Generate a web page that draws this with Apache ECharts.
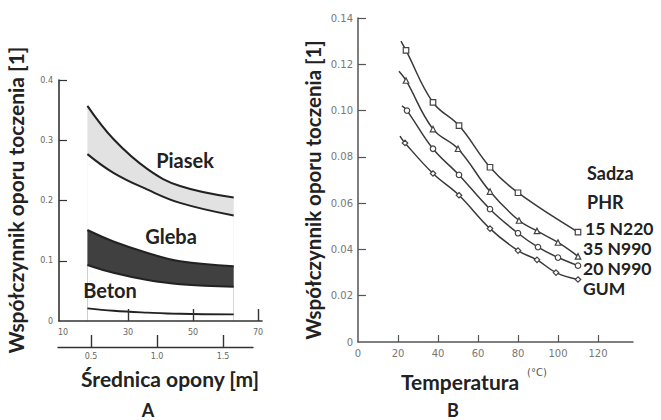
<!DOCTYPE html>
<html>
<head>
<meta charset="utf-8">
<script src="https://cdn.jsdelivr.net/npm/echarts@6/dist/echarts.min.js"></script>
<style>
html,body{margin:0;padding:0;background:#fff;}
#c{width:661px;height:420px;}
</style>
</head>
<body>
<div id="c"></div>
<script>
// ---------- Panel A data (x: tyre diameter in inches, top axis) ----------
const xA = [17.5, 25.5, 36, 46, 62.5];
const piasekUpper = [0.357, 0.302, 0.252, 0.224, 0.205];
const piasekLower = [0.277, 0.246, 0.218, 0.196, 0.175];
const glebaUpper  = [0.151, 0.132, 0.113, 0.099, 0.091];
const glebaLower  = [0.093, 0.080, 0.068, 0.061, 0.057];
const beton       = [0.021, 0.017, 0.014, 0.012, 0.011];
const xTicksInch  = [10, 30, 50, 70];
const xTickMarksInch = [30, 50, 70];
const xTicksM     = [0.5, 1.0, 1.5];
const yTicksA     = [0, 0.1, 0.2, 0.3, 0.4];

// ---------- Panel B data (temperature °C vs coefficient) ----------
const n220X = [21.5, 24, 37.5, 50.5, 66, 80, 110];
const n220Y = [0.130, 0.126, 0.1035, 0.0935, 0.0755, 0.0645, 0.0475];
const n990aX = [20.5, 24, 37.5, 50, 66, 80.5, 89.5, 100, 110];
const n990aY = [0.117, 0.113, 0.092, 0.0835, 0.065, 0.0525, 0.048, 0.043, 0.037];
const n990bX = [22, 24.5, 37.5, 50.5, 66, 80, 90, 100, 110];
const n990bY = [0.102, 0.100, 0.0835, 0.0722, 0.0574, 0.047, 0.041, 0.0365, 0.033];
const gumX = [21, 23.5, 37.5, 50.5, 66, 80, 89.5, 99, 110];
const gumY = [0.089, 0.086, 0.0728, 0.0634, 0.049, 0.0395, 0.0355, 0.030, 0.027];
const xTicksB = [0, 20, 40, 60, 80, 100, 120];
const yTicksB = [0, 0.02, 0.04, 0.06, 0.08, 0.10, 0.12, 0.14];
const yLabelsB = ['0', '0.02', '0.04', '0.06', '0.08', '0.10', '0.12', '0.14'];

const legendB = ['Sadza', 'PHR', '15 N220', '35 N990', '20 N990', 'GUM'];

const FONT = 'Lato, "Open Sans", sans-serif';
const ink = '#222';

function pairs(xs, ys) { return xs.map((x, i) => [x, ys[i]]); }
function withMarkers(xs, ys) {
  return xs.map((x, i) => i === 0 ? { value: [x, ys[i]], symbol: 'none' } : [x, ys[i]]);
}

const chart = echarts.init(document.getElementById('c'), null, { renderer: 'svg' });

const tickLabelA = { color: '#666', fontSize: 8, fontFamily: 'DejaVu Sans' };
const tickLabelB = { color: '#777', fontSize: 10, fontFamily: 'DejaVu Sans' };

function lineB(name, xs, ys, symbol) {
  return {
    name, type: 'line', xAxisIndex: 3, yAxisIndex: 3,
    data: withMarkers(xs, ys), smooth: 0.4,
    symbol, symbolSize: 5.5, showSymbol: true,
    lineStyle: { color: '#3a3a3a', width: 1.5 },
    itemStyle: { color: '#fff', borderColor: '#444', borderWidth: 1.2 },
    z: 3, silent: true
  };
}
function bandEdge(ys, fill, lw) {
  return { type: 'line', xAxisIndex: 0, yAxisIndex: 0, smooth: 0.4, symbol: 'none',
    data: pairs(xA, ys), lineStyle: { color: ink, width: lw },
    areaStyle: fill ? { color: fill, opacity: 1 } : undefined, silent: true };
}
function txt(text, x, y, size, align, lh) {
  const style = { text, font: 'bold ' + size + 'px ' + FONT, fill: ink, align: align || 'center', verticalAlign: 'middle' };
  if (lh) style.lineHeight = lh;
  return { type: 'text', x, y, z: 50, style };
}

const option = {
  backgroundColor: '#fff',
  animation: false,
  grid: [
    { left: 59, top: 80, width: 203, height: 241 },   // A main
    { left: 58, top: 346, width: 195, height: 1 },    // A metre axis
    { left: 0, top: 0, width: 1, height: 1 },         // unused
    { left: 358, top: 18, width: 275, height: 324 }   // B
  ],
  xAxis: [
    { gridIndex: 0, type: 'value', min: 8.77, max: 71.2, position: 'bottom', z: 10,
      axisLine: { show: true, onZero: false, lineStyle: { color: '#333', width: 1.6 } },
      axisTick: { show: true, inside: true, length: 12, customValues: xTickMarksInch, lineStyle: { color: '#333', width: 1.4 } },
      axisLabel: Object.assign({ customValues: xTicksInch, margin: 7 }, tickLabelA),
      splitLine: { show: false } },
    { gridIndex: 1, type: 'value', min: 0.25, max: 1.727, position: 'bottom',
      axisLine: { show: true, onZero: false, lineStyle: { color: '#333', width: 1.4 } },
      axisTick: { show: true, inside: true, length: 12, customValues: xTicksM, lineStyle: { color: '#333', width: 1.4 } },
      axisLabel: Object.assign({ customValues: xTicksM, margin: 5, formatter: v => v.toFixed(1) }, tickLabelA),
      splitLine: { show: false } },
    { gridIndex: 2, type: 'value', show: false },
    { gridIndex: 3, type: 'value', min: 0, max: 137.5, position: 'bottom',
      axisLine: { show: true, onZero: false, lineStyle: { color: '#555', width: 1.5 } },
      axisTick: { show: true, inside: true, length: 7, customValues: xTicksB.slice(1), lineStyle: { color: '#555', width: 1.2 } },
      axisLabel: Object.assign({ customValues: xTicksB, margin: 6 }, tickLabelB),
      splitLine: { show: false } }
  ],
  yAxis: [
    { gridIndex: 0, type: 'value', min: 0, max: 0.4, z: 10,
      axisLine: { show: true, onZero: false, lineStyle: { color: '#333', width: 1.6 } },
      axisTick: { show: true, inside: true, length: 8, customValues: yTicksA.slice(1), lineStyle: { color: '#333', width: 1.2 } },
      axisLabel: Object.assign({ customValues: yTicksA, margin: 6, formatter: v => v === 0 ? '0' : v.toFixed(1) }, tickLabelA),
      splitLine: { show: false } },
    { gridIndex: 1, type: 'value', show: false, min: 0, max: 1 },
    { gridIndex: 2, type: 'value', show: false },
    { gridIndex: 3, type: 'value', min: 0, max: 0.14,
      axisLine: { show: true, onZero: false, lineStyle: { color: '#555', width: 1.5 } },
      axisTick: { show: true, inside: true, length: 8, customValues: yTicksB.slice(1), lineStyle: { color: '#555', width: 1.2 } },
      axisLabel: Object.assign({ customValues: yTicksB, margin: 5,
        formatter: v => yLabelsB[yTicksB.findIndex(t => Math.abs(t - v) < 1e-9)] }, tickLabelB),
      splitLine: { show: false } }
  ],
  series: [
    bandEdge(piasekUpper, '#e2e2e2', 2),
    bandEdge(piasekLower, '#ffffff', 2),
    bandEdge(glebaUpper, '#404040', 2),
    bandEdge(glebaLower, '#ffffff', 2),
    bandEdge(beton, null, 1.8),
    lineB('15 N220', n220X, n220Y, 'rect'),
    lineB('35 N990', n990aX, n990aY, 'triangle'),
    lineB('20 N990', n990bX, n990bY, 'circle'),
    lineB('GUM', gumX, gumY, 'diamond')
  ],
  graphic: [
    { type: 'text', x: 15, y: 200, rotation: Math.PI / 2, z: 50,
      style: { text: 'Współczynnik oporu toczenia [1]', font: 'bold 21px ' + FONT, fill: ink, align: 'center', verticalAlign: 'middle' } },
    { type: 'text', x: 313, y: 190, rotation: Math.PI / 2, z: 50,
      style: { text: 'Współczynnik oporu toczenia [1]', font: 'bold 20.5px ' + FONT, fill: ink, align: 'center', verticalAlign: 'middle' } },
    txt('Piasek', 185, 160, 20),
    txt('Gleba', 171, 236, 20),
    txt('Beton', 110, 290, 20),
    txt('Średnica opony [m]', 170, 378, 21),
    txt('Temperatura', 460, 381, 21),
    { type: 'text', x: 537, y: 372, z: 50, style: { text: '(°C)', font: '10px DejaVu Sans', fill: '#555', align: 'center', verticalAlign: 'middle' } },
    txt('A', 148, 410, 18),
    txt('B', 453, 410, 18),
    txt(legendB[0], 587, 173, 18, 'left'),
    txt(legendB[1], 587, 202, 18, 'left'),
    txt(legendB[2], 585, 228, 17.5, 'left', 17),
    txt(legendB[3], 583, 248, 17.5, 'left', 17),
    txt(legendB[4], 583, 268, 17.5, 'left', 17),
    txt(legendB[5], 583, 288, 17.5, 'left', 17)
  ]
};
chart.setOption(option);
</script>
</body>
</html>
